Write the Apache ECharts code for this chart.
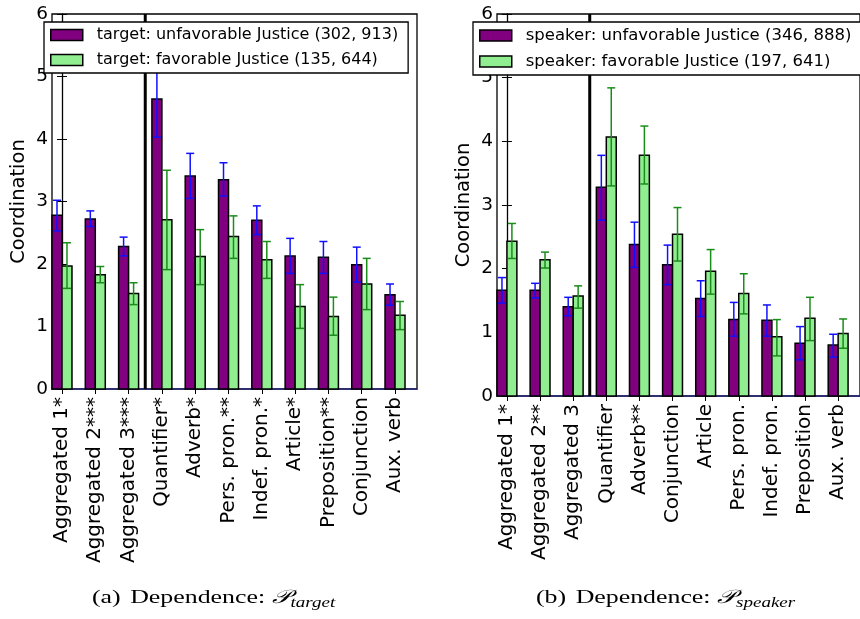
<!DOCTYPE html>
<html><head><meta charset="utf-8">
<script src="https://cdn.jsdelivr.net/npm/echarts@6/dist/echarts.min.js"></script>
<style>html,body{margin:0;padding:0;background:#fff}#c{width:860px;height:619px}</style>
</head><body><div id="c"></div>
<script>
// ---------- data ----------
const categoriesA = ['Aggregated 1*','Aggregated 2***','Aggregated 3***','Quantifier*','Adverb*','Pers. pron.**','Indef. pron.*','Article*','Preposition**','Conjunction','Aux. verb'];
const categoriesB = ['Aggregated 1*','Aggregated 2**','Aggregated 3','Quantifier','Adverb**','Conjunction','Article','Pers. pron.','Indef. pron.','Preposition','Aux. verb'];

const nameA1 = 'target: unfavorable Justice (302, 913)';
const nameA2 = 'target: favorable Justice (135, 644)';
const nameB1 = 'speaker: unfavorable Justice (346, 888)';
const nameB2 = 'speaker: favorable Justice (197, 641)';

const aUnfav   = [2.78, 2.72, 2.28, 4.64, 3.41, 3.35, 2.70, 2.13, 2.11, 1.99, 1.51];
const aUnfavLo = [2.53, 2.60, 2.13, 4.03, 3.05, 3.09, 2.47, 1.85, 1.85, 1.71, 1.34];
const aUnfavHi = [3.02, 2.85, 2.43, 5.25, 3.77, 3.62, 2.93, 2.41, 2.36, 2.27, 1.68];
const aFav     = [1.97, 1.83, 1.53, 2.71, 2.12, 2.44, 2.07, 1.32, 1.16, 1.68, 1.18];
const aFavLo   = [1.61, 1.70, 1.35, 1.91, 1.67, 2.09, 1.77, 0.97, 0.86, 1.27, 0.95];
const aFavHi   = [2.34, 1.96, 1.70, 3.50, 2.55, 2.77, 2.36, 1.67, 1.47, 2.09, 1.40];

const bUnfav   = [1.66, 1.66, 1.40, 3.28, 2.38, 2.06, 1.53, 1.20, 1.19, 0.83, 0.80];
const bUnfavLo = [1.46, 1.54, 1.26, 2.76, 2.02, 1.75, 1.25, 0.94, 0.94, 0.57, 0.61];
const bUnfavHi = [1.86, 1.77, 1.55, 3.78, 2.73, 2.37, 1.81, 1.47, 1.43, 1.09, 0.97];
const bFav     = [2.43, 2.14, 1.57, 4.07, 3.78, 2.54, 1.96, 1.61, 0.93, 1.22, 0.98];
const bFavLo   = [2.16, 2.01, 1.38, 3.30, 3.33, 2.12, 1.60, 1.29, 0.63, 0.87, 0.75];
const bFavHi   = [2.71, 2.26, 1.73, 4.84, 4.24, 2.96, 2.30, 1.92, 1.20, 1.55, 1.21];

const dividerX = 2.5;
const captionA = ['(a)', 'Dependence: ', '𝒫', 'target'];
const captionB = ['(b)', 'Dependence: ', '𝒫', 'speaker'];

// ---------- styles ----------
const PURPLE = '#800080', GREEN = '#90ee90', BLUE_ERR = '#1010ff', GREEN_ERR = '#1a8c1a';
const FONT = 'DejaVu Sans';
const BARW = 0.3;

function rows(v, lo, hi) { return v.map((x, i) => [i, x, lo[i], hi[i]]); }

function makeRender(off, fill, errColor) {
  return function (params, api) {
    const x = api.value(0) + off;
    const v = api.value(1), lo = api.value(2), hi = api.value(3);
    const p0 = api.coord([x, 0]), p1 = api.coord([x, v]);
    const w = api.size([BARW, 0])[0];
    const pl = api.coord([x, lo]), ph = api.coord([x, hi]);
    const cap = 4;
    return { type: 'group', children: [
      { type: 'rect', shape: { x: p1[0] - w / 2, y: p1[1], width: w, height: p0[1] - p1[1] },
        style: { fill: fill, stroke: '#000', lineWidth: 1.5 } },
      { type: 'line', shape: { x1: pl[0], y1: pl[1], x2: ph[0], y2: ph[1] }, style: { stroke: errColor, lineWidth: 1.5 } },
      { type: 'line', shape: { x1: pl[0] - cap, y1: pl[1], x2: pl[0] + cap, y2: pl[1] }, style: { stroke: errColor, lineWidth: 1.5 } },
      { type: 'line', shape: { x1: ph[0] - cap, y1: ph[1], x2: ph[0] + cap, y2: ph[1] }, style: { stroke: errColor, lineWidth: 1.5 } }
    ]};
  };
}

const grids = [
  { left: 52, top: 14, width: 365, height: 375 },
  { left: 497, top: 14, width: 369, height: 382 }
];
const xMin = -0.3, xMax = 10.66;
const idx = categoriesA.map((_, i) => i);

const xAxes = [], yAxes = [];
[categoriesA, categoriesB].forEach((cats, g) => {
  xAxes.push({ gridIndex: g, type: 'value', min: xMin, max: xMax, position: 'bottom',
    axisLine: { show: true, onZero: false, lineStyle: { color: '#2b2b80', width: 1.5 } },
    axisTick: { show: true, inside: true, length: 5, customValues: idx, lineStyle: { color: '#000' } },
    axisLabel: { show: true, rotate: 90, margin: 8, customValues: idx, color: '#000',
      fontFamily: FONT, fontSize: 20, formatter: v => cats[Math.round(v)] },
    splitLine: { show: false } });
  xAxes.push({ gridIndex: g, type: 'value', min: xMin, max: xMax, position: 'top',
    axisLine: { show: false },
    axisTick: { show: true, inside: true, length: 5, customValues: idx, lineStyle: { color: '#000' } },
    axisLabel: { show: false }, splitLine: { show: false } });
  yAxes.push({ gridIndex: g, type: 'value', min: 0, max: 6, interval: 1, position: 'left',
    name: 'Coordination', nameLocation: 'middle', nameGap: 23,
    nameTextStyle: { fontFamily: FONT, fontSize: 19.5, color: '#000' },
    axisLine: { show: true, lineStyle: { color: '#000', width: 1.3 } },
    axisTick: { show: true, inside: true, length: 5, lineStyle: { color: '#000' } },
    axisLabel: { color: '#000', fontFamily: FONT, fontSize: 18.5, margin: 4 },
    splitLine: { show: false } });
  yAxes.push({ gridIndex: g, type: 'value', min: 0, max: 6, interval: 1, position: 'right',
    axisLine: { show: false },
    axisTick: { show: true, inside: true, length: 5, lineStyle: { color: '#000' } },
    axisLabel: { show: false }, splitLine: { show: false } });
});

function barSeries(name, g, off, fill, err, data) {
  return { type: 'custom', name: name, xAxisIndex: g * 2, yAxisIndex: g * 2,
    itemStyle: { color: fill, borderColor: '#000', borderWidth: 1.5 },
    renderItem: makeRender(off, fill, err), data: data, encode: { x: 0, y: 1 }, z: 3 };
}
function divider(g) {
  return { type: 'line', xAxisIndex: g * 2, yAxisIndex: g * 2, symbol: 'none', silent: true,
    data: [[dividerX, 0], [dividerX, 6]], lineStyle: { color: '#000', width: 3 }, z: 4 };
}

const legendBase = {
  orient: 'vertical', top: 22, icon: 'rect', itemWidth: 32, itemHeight: 11, itemGap: 9,
  backgroundColor: '#fff', borderColor: '#000', borderWidth: 1.3, borderRadius: 0,
  padding: [5, 10, 5, 6], z: 10,
  textStyle: { fontFamily: FONT, fontSize: 16, color: '#000', padding: [0, 0, 0, 9] }
};

function caption(parts, x) {
  return { type: 'text', x: x, y: 586, scaleX: 1.36, style: {
    text: '{a|' + parts[0] + '}{b|' + parts[1] + '}{p|' + parts[2] + '}{s|' + parts[3] + '}',
    rich: {
      a: { fontFamily: 'Liberation Serif', fontSize: 19, color: '#000', padding: [0, 7, 0, 0] },
      b: { fontFamily: 'Liberation Serif', fontSize: 19, color: '#000' },
      p: { fontFamily: 'DejaVu Serif', fontSize: 19, fontStyle: 'italic', color: '#000' },
      s: { fontFamily: 'Liberation Serif', fontSize: 14, fontStyle: 'italic', color: '#000', padding: [10, 0, 0, 0] }
    } } };
}

const option = {
  animation: false,
  backgroundColor: '#fff',
  grid: grids.map(g => Object.assign({ show: true, borderColor: '#000', borderWidth: 1.3, backgroundColor: 'transparent' }, g)),
  xAxis: xAxes, yAxis: yAxes,
  legend: [
    Object.assign({}, legendBase, { left: 44, data: [
      { name: nameA1, itemStyle: { color: PURPLE, borderColor: '#000', borderWidth: 1.5 } },
      { name: nameA2, itemStyle: { color: GREEN, borderColor: '#000', borderWidth: 1.5 } }] }),
    Object.assign({}, legendBase, { left: 473,
      textStyle: Object.assign({}, legendBase.textStyle, { fontSize: 16.5 }),
      data: [
      { name: nameB1, itemStyle: { color: PURPLE, borderColor: '#000', borderWidth: 1.5 } },
      { name: nameB2, itemStyle: { color: GREEN, borderColor: '#000', borderWidth: 1.5 } }] })
  ],
  series: [
    barSeries(nameA1, 0, -BARW / 2, PURPLE, BLUE_ERR, rows(aUnfav, aUnfavLo, aUnfavHi)),
    barSeries(nameA2, 0, BARW / 2, GREEN, GREEN_ERR, rows(aFav, aFavLo, aFavHi)),
    barSeries(nameB1, 1, -BARW / 2, PURPLE, BLUE_ERR, rows(bUnfav, bUnfavLo, bUnfavHi)),
    barSeries(nameB2, 1, BARW / 2, GREEN, GREEN_ERR, rows(bFav, bFavLo, bFavHi)),
    divider(0), divider(1)
  ],
  graphic: [caption(captionA, 92), caption(captionB, 536)]
};
const chart = echarts.init(document.getElementById('c'), null, { renderer: 'canvas' });
chart.setOption(option);
</script></body></html>
